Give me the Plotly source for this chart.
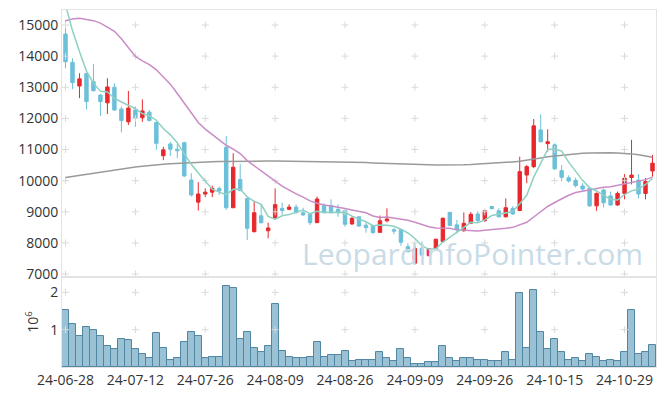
import plotly.graph_objects as go

dates = [
    "24-06-28",
    "24-07-01", "24-07-02", "24-07-03", "24-07-04", "24-07-05",
    "24-07-08", "24-07-09", "24-07-10", "24-07-11", "24-07-12",
    "24-07-15", "24-07-16", "24-07-17", "24-07-18", "24-07-19",
    "24-07-22", "24-07-23", "24-07-24", "24-07-25", "24-07-26",
    "24-07-29", "24-07-30", "24-07-31", "24-08-01", "24-08-02",
    "24-08-05", "24-08-06", "24-08-07", "24-08-08", "24-08-09",
    "24-08-12", "24-08-13", "24-08-14", "24-08-16",
    "24-08-19", "24-08-20", "24-08-21", "24-08-22", "24-08-23",
    "24-08-26", "24-08-27", "24-08-28", "24-08-29", "24-08-30",
    "24-09-02", "24-09-03", "24-09-04", "24-09-05", "24-09-06",
    "24-09-09", "24-09-10", "24-09-11", "24-09-12", "24-09-13",
    "24-09-19", "24-09-20", "24-09-23", "24-09-24", "24-09-25",
    "24-09-26", "24-09-27", "24-09-30", "24-10-02", "24-10-04",
    "24-10-07", "24-10-08", "24-10-10", "24-10-11", "24-10-14",
    "24-10-15", "24-10-16", "24-10-17", "24-10-18", "24-10-21",
    "24-10-22", "24-10-23", "24-10-24", "24-10-25", "24-10-28",
    "24-10-29", "24-10-30", "24-10-31", "24-11-01", "24-11-04",
]

open_ = [14710, 13800, 13040, 13440, 13180, 12750, 12500, 13000, 12300, 11890,
         12270, 12020, 12200, 11870, 10800, 11180, 11010, 11220, 10020, 9310,
         9570, 9630, 9750, 11070, 9130, 10040, 9430, 8360, 8870, 8390,
         8790, 9110, 9080, 9150, 8970, 8920, 8650, 9200, 9200, 9080,
         9040, 8610, 8840, 8570, 8560, 8340, 8710, 8420, 8420, 7880,
         7350, 7830, 7590, 7830, 8040, 8980, 8580, 8390, 8630, 8930,
         8720, 9170, 9030, 8840, 9110, 9040, 10180, 10450, 11630, 11190,
         11150, 10320, 10090, 10010, 9830, 9750, 9190, 9700, 9510, 9220,
         9590, 10100, 10020, 9590, 10310]
high = [15160, 13930, 13450, 13440, 13740, 12780, 13290, 13130, 12380, 12880,
        12380, 12610, 12270, 11900, 11090, 11250, 11180, 11250, 10240, 9950,
        9750, 9840, 9810, 11440, 10880, 10540, 9450, 9350, 9250, 8650,
        9750, 9300, 9240, 9240, 9130, 8940, 9490, 9270, 9400, 9240,
        9060, 8840, 8840, 8650, 8580, 8880, 9110, 8490, 8440, 7990,
        7900, 8040, 7830, 8130, 8820, 9000, 8740, 8980, 8990, 9020,
        9060, 9190, 9110, 9430, 9180, 10770, 10500, 11980, 12130, 11650,
        11200, 10500, 10170, 10100, 9920, 9810, 9620, 9750, 9650, 9650,
        10210, 11310, 10210, 10080, 10830]
low = [13610, 12935, 12650, 12290, 12860, 12080, 12140, 12240, 11550, 11790,
       11730, 11890, 11900, 10990, 10660, 10790, 10720, 10120, 9490, 9040,
       9470, 9470, 9540, 9060, 9130, 9660, 8090, 8340, 8620, 8150,
       8740, 8900, 9050, 8950, 8870, 8580, 8640, 8950, 8950, 8840,
       8520, 8580, 8520, 8330, 8300, 8320, 8660, 8280, 7910, 7700,
       7345, 7580, 7570, 7800, 8020, 8540, 8310, 8360, 8610, 8660,
       8670, 9080, 8810, 8810, 8900, 9020, 9920, 10400, 11230, 10930,
       10340, 9980, 9940, 9780, 9680, 9160, 9030, 9140, 9190, 9190,
       9400, 9880, 9430, 9400, 10130]
close = [13820, 13150, 13270, 12540, 12890, 12540, 13010, 12270, 11930, 12330,
         12020, 12240, 11930, 11200, 10990, 11010, 10960, 10150, 9540, 9570,
         9630, 9750, 9670, 9130, 10430, 9680, 8470, 8970, 8650, 8480,
         9230, 9040, 9150, 8970, 8900, 8650, 9410, 8970, 8970, 8970,
         8600, 8790, 8540, 8490, 8330, 8710, 8770, 8380, 8020, 7720,
         7820, 7610, 7810, 8120, 8790, 8560, 8420, 8630, 8920, 8720,
         9030, 9100, 8840, 9130, 8930, 10290, 10450, 11760, 11250, 11250,
         10380, 10110, 9990, 9840, 9730, 9190, 9590, 9290, 9220, 9590,
         10080, 10180, 9570, 9970, 10560]

ma5 = [15650, 14820, 14150, 13520, 13132, 12875, 12848, 12649, 12526, 12413,
       12311, 12156, 12088, 11942, 11674, 11471, 11216, 10861, 10529, 10246,
       9970, 9728, 9632, 9551, 9722, 9733, 9476, 9337, 9240, 8850,
       8760, 8873, 8910, 8974, 9058, 8942, 9017, 8981, 8981, 8995,
       8985, 8861, 8776, 8679, 8551, 8572, 8568, 8535, 8441, 8319,
       8142, 7911, 7795, 7814, 8029, 8176, 8336, 8501, 8662, 8647,
       8741, 8878, 8920, 8963, 9006, 9259, 9529, 10112, 10536, 11000,
       11017, 10949, 10595, 10313, 10009, 9771, 9669, 9529, 9405, 9377,
       9555, 9673, 9729, 9878, 10071]
ma20 = [15140, 15190, 15215, 15180, 15140, 15060, 14930, 14800, 14560, 14270,
        13990, 13850, 13730, 13560, 13340, 13100, 12800, 12480, 12170, 11867,
        11657, 11487, 11307, 11137, 11014, 10871, 10644, 10479, 10315, 10123,
        9983, 9823, 9685, 9573, 9469, 9351, 9274, 9215, 9186, 9156,
        9105, 9057, 9001, 8969, 8864, 8815, 8830, 8801, 8769, 8731,
        8661, 8589, 8522, 8479, 8474, 8469, 8419, 8402, 8399, 8386,
        8408, 8423, 8438, 8470, 8500, 8579, 8664, 8832, 8994, 9170,
        9298, 9423, 9532, 9618, 9666, 9697, 9756, 9789, 9804, 9848,
        9901, 9955, 9991, 10033, 10114]
ma120 = [10100, 10135, 10170, 10205, 10245, 10280, 10315, 10350, 10385, 10415,
         10440, 10465, 10490, 10510, 10525, 10540, 10555, 10570, 10580, 10590,
         10600, 10607, 10614, 10620, 10625, 10630, 10632, 10633, 10632, 10631,
         10630, 10628, 10626, 10624, 10622, 10620, 10618, 10616, 10614, 10612,
         10610, 10600, 10590, 10580, 10570, 10560, 10552, 10544, 10536, 10528,
         10520, 10515, 10510, 10505, 10502, 10500, 10505, 10512, 10520, 10530,
         10540, 10552, 10568, 10585, 10602, 10620, 10650, 10690, 10730, 10765,
         10790, 10815, 10840, 10860, 10878, 10890, 10897, 10900, 10897, 10890,
         10880, 10860, 10830, 10795, 10750]

volume = [1.52, 1.14, 0.84, 1.06, 0.98, 0.82, 0.55, 0.49, 0.76, 0.71,
          0.49, 0.36, 0.25, 0.92, 0.52, 0.20, 0.25, 0.66, 0.95, 0.84,
          0.23, 0.28, 0.28, 2.16, 2.11, 0.76, 0.95, 0.52, 0.39, 0.55,
          1.68, 0.44, 0.28, 0.25, 0.25, 0.28, 0.68, 0.28, 0.33, 0.31,
          0.42, 0.15, 0.20, 0.18, 0.20, 0.39, 0.25, 0.15, 0.47, 0.23,
          0.09, 0.09, 0.12, 0.12, 0.57, 0.25, 0.15, 0.23, 0.23, 0.18,
          0.18, 0.15, 0.15, 0.39, 0.18, 1.97, 0.52, 2.05, 0.95, 0.47,
          0.74, 0.41, 0.18, 0.23, 0.15, 0.36, 0.28, 0.15, 0.20, 0.15,
          0.41, 1.52, 0.36, 0.39, 0.60]
volume = [v * 1e6 for v in volume]

price_ticks = [7000, 8000, 9000, 10000, 11000, 12000, 13000, 14000, 15000]
price_ticktext = [str(t) for t in price_ticks]
vol_ticks = [1e6, 2e6]
vol_ticktext = ["1", "2"]
date_ticks = dates[::10]

UP = "#e8282d"
DOWN = "#6cc0d9"
FONT = "Open Sans"
TICK_FONT = dict(family=FONT, size=14, color="#333333")

fig = go.Figure()

# grid crosses at tick intersections
gx, gy = [], []
for d in date_ticks:
    for p in price_ticks:
        gx.append(d); gy.append(p)
fig.add_trace(go.Scatter(x=gx, y=gy, mode="markers", xaxis="x", yaxis="y",
                         marker=dict(symbol="cross-thin", size=5,
                                     line=dict(width=1, color="#dadada")),
                         hoverinfo="skip", showlegend=False))
vx, vy = [], []
for d in date_ticks:
    for p in vol_ticks:
        vx.append(d); vy.append(p)
fig.add_trace(go.Scatter(x=vx, y=vy, mode="markers", xaxis="x2", yaxis="y2",
                         marker=dict(symbol="cross-thin", size=5,
                                     line=dict(width=1, color="#dadada")),
                         hoverinfo="skip", showlegend=False))

fig.add_trace(go.Scatter(x=dates, y=ma120, mode="lines", xaxis="x", yaxis="y",
                         line=dict(color="#9a9a9a", width=1.5), showlegend=False))
fig.add_trace(go.Scatter(x=dates, y=ma20, mode="lines", xaxis="x", yaxis="y",
                         line=dict(color="#c98cc6", width=1.5), showlegend=False))
fig.add_trace(go.Scatter(x=dates, y=ma5, mode="lines", xaxis="x", yaxis="y",
                         line=dict(color="#8ed0c2", width=1.5), showlegend=False))

fig.add_trace(go.Candlestick(
    x=dates, open=open_, high=high, low=low, close=close,
    xaxis="x", yaxis="y",
    increasing=dict(line=dict(color=UP, width=1), fillcolor=UP),
    decreasing=dict(line=dict(color=DOWN, width=1), fillcolor=DOWN),
    whiskerwidth=0, showlegend=False))

fig.add_trace(go.Bar(x=dates, y=volume, xaxis="x2", yaxis="y2",
                     marker=dict(color="rgba(125,175,200,0.78)",
                                 line=dict(color="#4f86a3", width=1)),
                     showlegend=False))

axis_line = "#e3e3e3"
fig.update_layout(
    width=665, height=396,
    margin=dict(l=62, r=9, t=10, b=29),
    paper_bgcolor="white", plot_bgcolor="white",
    font=dict(family=FONT, size=14, color="#333333"),
    bargap=0,
    xaxis=dict(domain=[0, 1], anchor="y", type="category",
               categoryorder="array", categoryarray=dates,
               range=[-0.5, len(dates) - 0.5], automargin=False,
               showticklabels=False, showgrid=False, zeroline=False,
               showline=True, linecolor=axis_line, mirror=True,
               rangeslider=dict(visible=False)),
    yaxis=dict(domain=[0.252, 1], anchor="x", range=[6904, 15482],
               tickvals=price_ticks, ticktext=price_ticktext, automargin=False,
               showgrid=False, zeroline=False,
               showline=True, linecolor=axis_line, mirror=True,
               ticks="", tickfont=TICK_FONT),
    xaxis2=dict(domain=[0, 1], anchor="y2", type="category",
                categoryorder="array", categoryarray=dates,
                range=[-0.5, len(dates) - 0.5], matches="x", automargin=False,
                tickvals=date_ticks, ticktext=date_ticks,
                showgrid=False, zeroline=False, ticks="",
                showline=True, linecolor=axis_line, mirror=True,
                tickfont=TICK_FONT),
    yaxis2=dict(domain=[0, 0.252], anchor="x2", range=[0, 2.41e6],
                tickvals=vol_ticks, ticktext=vol_ticktext, automargin=False,
                showgrid=False, zeroline=False, ticks="",
                showline=True, linecolor=axis_line, mirror=True,
                title=dict(text="10<sup>6</sup>", font=dict(size=14), standoff=8),
                tickfont=TICK_FONT),
    annotations=[dict(text="LeopardInfoPointer.com", xref="paper", yref="paper",
                      x=0.982, y=0.318, xanchor="right", yanchor="middle",
                      showarrow=False,
                      font=dict(family=FONT, size=30, color="#c8dbe7"))],
)

fig.write_html("out.html", config={"displayModeBar": False},
               post_script="document.body.style.margin='0';document.body.style.padding='0';")
